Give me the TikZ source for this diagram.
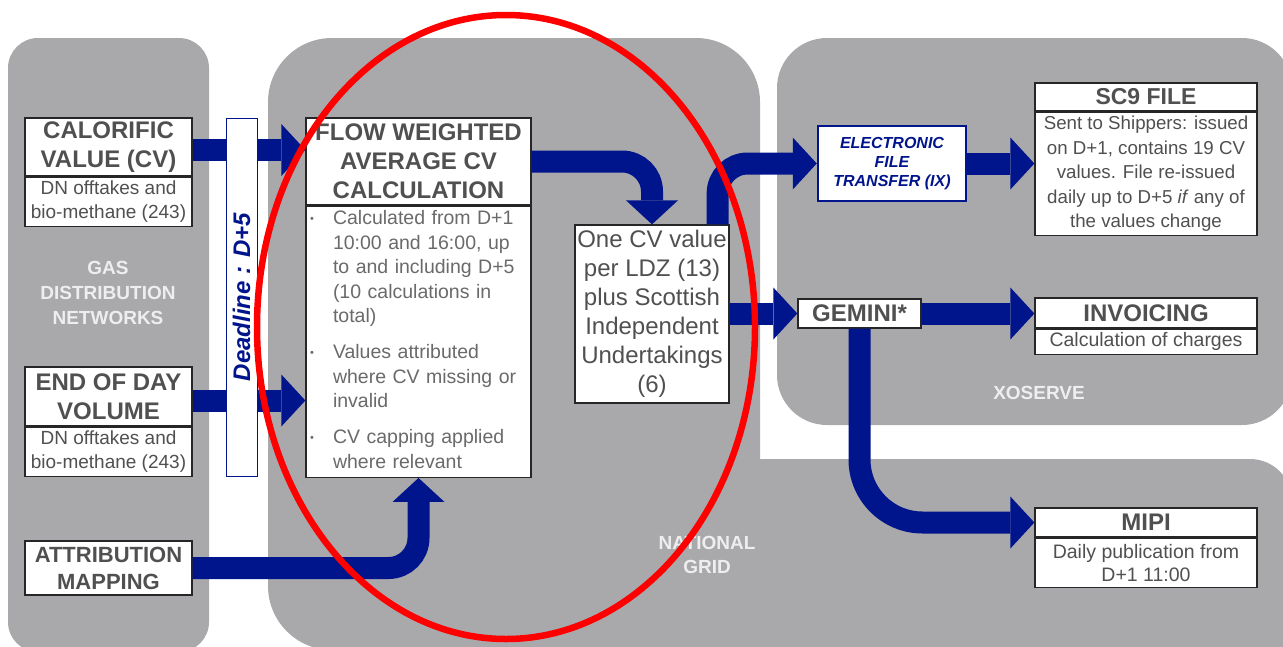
\documentclass[tikz,border=0pt]{standalone}
\usepackage{fontspec}
\setmainfont{Liberation Sans}
\usetikzlibrary{arrows.meta,positioning}

\definecolor{navy}{HTML}{00148C}
\definecolor{panel}{HTML}{A9A9AC}
\definecolor{boxtext}{HTML}{505050}
\definecolor{paneltext}{HTML}{EEEEEE}

\tikzset{
	hdr/.style={draw=black!85, fill=white, line width=1.3pt, inner sep=0pt, text=boxtext, align=center, font=\bfseries\fontsize{24}{29}\selectfont},
	sub/.style={hdr, font=\fontsize{19}{24}\selectfont},
	flow/.style={draw=navy, line width=22pt, rounded corners=30pt, -{Triangle[width=52pt, length=24pt, line width=0pt]}},
	panellabel/.style={text=paneltext, align=center, font=\bfseries\fontsize{19}{25}\selectfont}
}
\newcommand{\blt}{\raisebox{2pt}{\fontsize{11}{11}\selectfont\textbullet}}

\begin{document}
\begin{tikzpicture}[x=1pt, y=-1pt]
	\useasboundingbox (0,0) rectangle (1283,646);
	\clip (0,0) rectangle (1283,646);
	
	\fill[panel, rounded corners=30pt] (8,38) rectangle (209,652);
	\fill[panel, rounded corners=64pt] (268,38) rectangle (760,650);
	\fill[panel, rounded corners=42pt] (700,459) rectangle (1292,720);
	\fill[panel, rounded corners=50pt] (777,38) rectangle (1292,425);
	
	\node[panellabel] (gdn) at (108,293) {GAS\\DISTRIBUTION\\NETWORKS};
	\node[panellabel, font=\bfseries\fontsize{19}{24}\selectfont] (ng) at (707,555) {NATIONAL\\GRID};
	\node[panellabel] (xo) at (1039,393) {XOSERVE};
	
	\node[hdr, minimum width=167pt, minimum height=58pt] (cvh) at (108.5,147) {CALORIFIC\\VALUE (CV)};
	\node[sub, minimum width=167pt, minimum height=49pt, below=0pt of cvh] (cvs) {DN offtakes and\\bio-methane (243)};
	\node[hdr, minimum width=167pt, minimum height=59pt] (eodh) at (108.5,396.5) {END OF DAY\\VOLUME};
	\node[sub, minimum width=167pt, minimum height=49pt, below=0pt of eodh] (eods) {DN offtakes and\\bio-methane (243)};
	\node[hdr, minimum width=167pt, minimum height=54pt, font=\bfseries\fontsize{22}{27}\selectfont] (attr) at (108.5,568) {ATTRIBUTION\\MAPPING};
	
	\node[hdr, minimum width=225pt, minimum height=87pt] (fwah) at (418.5,161.5) {FLOW WEIGHTED\\AVERAGE CV\\CALCULATION};
	\node[sub, minimum width=225pt, minimum height=271pt, text width=217pt, align=left, below=0pt of fwah, text=boxtext!85, font=\fontsize{19.5}{24.5}\selectfont] (fwab) {%
		\begin{tabular}{@{}p{23pt}@{}l@{}}
			\blt & Calculated from D+1\\
			& 10:00 and 16:00, up\\
			& to and including D+5\\
			& (10 calculations in\\
			& total)\\[11.5pt]
			\blt & Values attributed\\
			& where CV missing or\\
			& invalid\\[11.5pt]
			\blt & CV capping applied\\
			& where relevant
		\end{tabular}};
	
	\node[sub, minimum width=154pt, minimum height=178pt, font=\fontsize{24}{29}\selectfont] (onecv) at (652,314) {One CV value\\per LDZ (13)\\plus Scottish\\Independent\\Undertakings\\(6)};
	
	\node[draw=navy, line width=2.5pt, fill=white, minimum width=148pt, minimum height=75pt, inner sep=0pt, align=center, text=navy, font=\bfseries\itshape\fontsize{16}{19}\selectfont] (eft) at (892,163.5) {ELECTRONIC\\FILE\\TRANSFER (IX)};
	\node[hdr, minimum width=123pt, minimum height=29pt] (gemini) at (859.5,313.5) {GEMINI*};
	
	\node[hdr, minimum width=222pt, minimum height=28pt, font=\bfseries\fontsize{23}{28}\selectfont] (sc9h) at (1146,97) {SC9 FILE};
	\node[sub, minimum width=222pt, minimum height=123pt, below=0pt of sc9h, font=\fontsize{18.7}{24.5}\selectfont] (sc9b) {Sent to Shippers: issued\\on D+1, contains 19 CV\\values. File re-issued\\daily up to D+5 \textit{if} any of\\the values change};
	\node[hdr, minimum width=222pt, minimum height=30pt] (invh) at (1146,313) {INVOICING};
	\node[sub, minimum width=222pt, minimum height=25pt, below=0pt of invh, font=\fontsize{19.5}{24}\selectfont] (invb) {Calculation of charges};
	\node[hdr, minimum width=222pt, minimum height=29pt] (miph) at (1146,522.5) {MIPI};
	\node[sub, minimum width=222pt, minimum height=49pt, below=0pt of miph, font=\fontsize{19.5}{23.5}\selectfont] (mipb) {Daily publication from\\D+1 11:00};
	
	\coordinate (cvout) at ([yshift=-3pt]cvh.east);
	\coordinate (eodout) at ([yshift=-4pt]eodh.east);
	\draw[flow] (cvout) -- (cvout -| fwah.west);
	\draw[flow] (eodout) -- (eodout -| fwab.west);
	\draw[flow] (attr.east) -| (fwab.south);
	\draw[flow] (fwah.east) -| (onecv.north);
	\draw[flow] ([xshift=-12pt]onecv.north east) |- (eft.west);
	\draw[flow] (onecv.east |- gemini.west) -- (gemini.west);
	\draw[flow] (eft.east) -- (eft.east -| sc9b.west);
	\draw[flow] (gemini.east) -- (gemini.east -| invh.west);
	\draw[flow, rounded corners=63pt] (gemini.south) |- (miph.west);
	
	\node[draw=navy, line width=1pt, fill=white, rotate=90, minimum width=358pt, minimum height=31pt, inner sep=0pt, text=navy, font=\bfseries\itshape\fontsize{24}{24}\selectfont] (deadline) at (241.5,297) {Deadline : D+5};
	
	\draw[red, line width=6.5pt] (506,327) ellipse [x radius=249, y radius=312];
\end{tikzpicture}
\end{document}
